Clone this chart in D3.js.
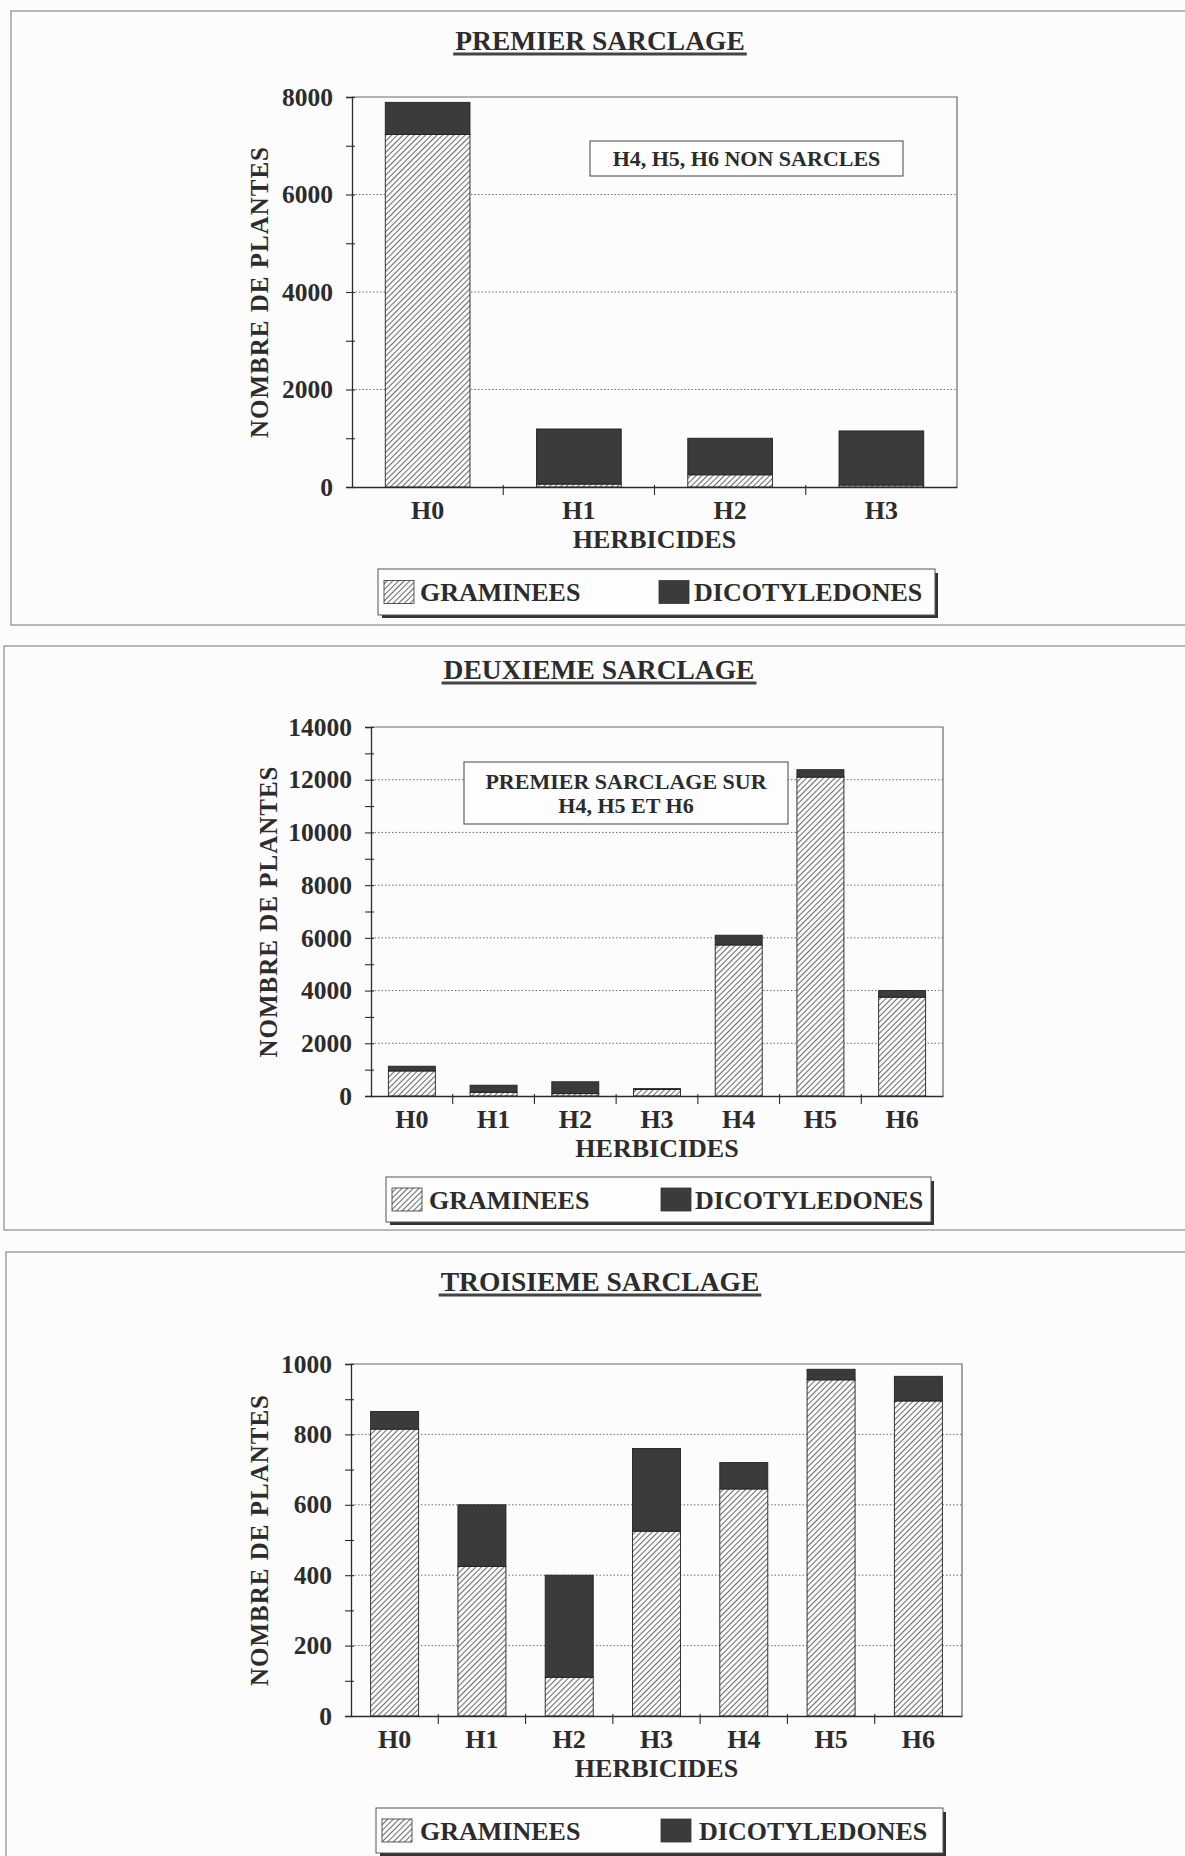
<!DOCTYPE html>
<html>
<head>
<meta charset="utf-8">
<script src="https://cdn.jsdelivr.net/npm/d3@7"></script>
<style>
  html, body { margin: 0; padding: 0; background: #fcfcfc; }
  svg { display: block; }
  text { font-family: "Liberation Serif", "Times New Roman", serif; font-weight: bold; fill: #2c2c2c; }
</style>
</head>
<body>
<svg id="chart" width="1185" height="1856"></svg>
<script>
// ---- data ----
const seriesNames = ["GRAMINEES", "DICOTYLEDONES"];

const categoriesPremier = ["H0", "H1", "H2", "H3"];
const gramineesPremier  = [7230, 60, 250, 40];
const dicotsPremier     = [660, 1130, 750, 1110];
const ticksPremier      = [0, 2000, 4000, 6000, 8000];

const categoriesDeuxieme = ["H0", "H1", "H2", "H3", "H4", "H5", "H6"];
const gramineesDeuxieme  = [950, 140, 90, 250, 5730, 12100, 3750];
const dicotsDeuxieme     = [180, 270, 450, 30, 370, 280, 250];
const ticksDeuxieme      = [0, 2000, 4000, 6000, 8000, 10000, 12000, 14000];

const categoriesTroisieme = ["H0", "H1", "H2", "H3", "H4", "H5", "H6"];
const gramineesTroisieme  = [815, 425, 110, 525, 645, 955, 895];
const dicotsTroisieme     = [50, 175, 290, 235, 75, 30, 70];
const ticksTroisieme      = [0, 200, 400, 600, 800, 1000];

// ---- layout of the three panels ----
const panels = [
  {
    title: "PREMIER SARCLAGE", titleX: 600, titleY: 50,
    categories: categoriesPremier, gram: gramineesPremier, dicot: dicotsPremier,
    ticks: ticksPremier, minor: 1000,
    frame: { x: 11, y: 11, h: 614 },
    plot: { x0: 352, x1: 957, y0: 97, y1: 487 }, pad: 0.44,
    yTitleX: 259,
    note: { x: 590, y: 141, w: 313, h: 35, lines: ["H4, H5, H6 NON SARCLES"] },
    legend: { x: 378, y: 569, w: 557, h: 46, s1: 6, t1: 42, s2: 281, t2: 316 }
  },
  {
    title: "DEUXIEME SARCLAGE", titleX: 599, titleY: 679,
    categories: categoriesDeuxieme, gram: gramineesDeuxieme, dicot: dicotsDeuxieme,
    ticks: ticksDeuxieme, minor: 1000,
    frame: { x: 4, y: 646, h: 584 },
    plot: { x0: 371, x1: 943, y0: 727, y1: 1096 }, pad: 0.425,
    yTitleX: 268,
    note: { x: 464, y: 762, w: 324, h: 62, lines: ["PREMIER SARCLAGE SUR", "H4, H5 ET H6"] },
    legend: { x: 386, y: 1177, w: 545, h: 45, s1: 6, t1: 43, s2: 275, t2: 309 }
  },
  {
    title: "TROISIEME SARCLAGE", titleX: 600, titleY: 1291,
    categories: categoriesTroisieme, gram: gramineesTroisieme, dicot: dicotsTroisieme,
    ticks: ticksTroisieme, minor: 100,
    frame: { x: 6, y: 1252, h: 700 },
    plot: { x0: 351, x1: 962, y0: 1364, y1: 1716 }, pad: 0.45,
    yTitleX: 259,
    note: null,
    legend: { x: 376, y: 1808, w: 567, h: 45, s1: 6, t1: 44, s2: 285, t2: 323 }
  }
];

const svg = d3.select("#chart");
const ink = "#2c2c2c";
const darkFill = "#3b3b3b";

// diagonal hatch used for the grass series
const defs = svg.append("defs");
const hs = 4;
const hatch = defs.append("pattern")
  .attr("id", "hatch")
  .attr("patternUnits", "userSpaceOnUse")
  .attr("width", hs).attr("height", hs)
  .attr("patternTransform", "rotate(45)");
hatch.append("rect").attr("width", hs).attr("height", hs).attr("fill", "#fafafa");
hatch.append("line")
  .attr("x1", 0.5).attr("y1", 0).attr("x2", 0.5).attr("y2", hs)
  .attr("stroke", "#505050").attr("stroke-width", 0.85);

const fills = ["url(#hatch)", darkFill];

panels.forEach(p => {
  const g = svg.append("g");

  // panel frame
  g.append("rect")
    .attr("x", p.frame.x).attr("y", p.frame.y)
    .attr("width", 1200).attr("height", p.frame.h)
    .attr("fill", "none").attr("stroke", "#8a8a8a").attr("stroke-width", 1.2);

  // title with underline
  const t = g.append("text")
    .attr("x", p.titleX).attr("y", p.titleY)
    .attr("text-anchor", "middle")
    .style("font-size", "27.5px")
    .text(p.title);
  const tw = t.node().getComputedTextLength();
  g.append("line")
    .attr("x1", p.titleX - tw / 2 - 2).attr("x2", p.titleX + tw / 2 + 2)
    .attr("y1", p.titleY + 4).attr("y2", p.titleY + 4)
    .attr("stroke", "#444").attr("stroke-width", 2.8);

  const { x0, x1, y0, y1 } = p.plot;
  const yMax = p.ticks[p.ticks.length - 1];

  const x = d3.scaleBand()
    .domain(p.categories)
    .range([x0, x1])
    .paddingInner(p.pad)
    .paddingOuter(p.pad / 2);
  const y = d3.scaleLinear().domain([0, yMax]).range([y1, y0]);

  // plot box (top and right edges)
  g.append("path")
    .attr("d", `M${x0},${y0}H${x1}V${y1}`)
    .attr("fill", "none").attr("stroke", "#6a6a6a").attr("stroke-width", 1.2);

  // dotted gridlines
  g.append("g").selectAll("line")
    .data(p.ticks.filter(v => v > 0 && v < yMax))
    .join("line")
    .attr("x1", x0).attr("x2", x1)
    .attr("y1", d => y(d)).attr("y2", d => y(d))
    .attr("stroke", "#6e6e6e").attr("stroke-width", 1)
    .attr("stroke-dasharray", "1.5,2");

  // stacked bars
  const rows = p.categories.map((c, i) => ({ cat: c, GRAMINEES: p.gram[i], DICOTYLEDONES: p.dicot[i] }));
  const stacked = d3.stack().keys(seriesNames)(rows);
  stacked.forEach((layer, li) => {
    g.append("g").selectAll("rect")
      .data(layer)
      .join("rect")
      .attr("x", d => x(d.data.cat))
      .attr("width", x.bandwidth())
      .attr("y", d => y(d[1]))
      .attr("height", d => Math.max(0, y(d[0]) - y(d[1])))
      .attr("fill", fills[li])
      .attr("stroke", "#222").attr("stroke-width", 0.9);
  });

  // y axis: minor ticks every step, labels at the major values
  const allTicks = d3.range(0, yMax + p.minor / 2, p.minor);
  const yAxis = d3.axisLeft(y)
    .tickValues(allTicks)
    .tickSize(6)
    .tickPadding(13)
    .tickFormat(d => p.ticks.includes(d) ? d3.format("d")(d) : "");
  const ya = g.append("g").attr("transform", `translate(${x0},0)`).call(yAxis);
  ya.select(".domain").attr("stroke", ink).attr("stroke-width", 1.3);
  ya.selectAll(".tick line").attr("x1", 3).attr("x2", -6).attr("stroke", ink).attr("stroke-width", 1.1);
  ya.selectAll(".tick text").style("font-size", "25.5px").attr("fill", ink);

  // x axis: labels centred in each category, tick marks at category boundaries
  const xAxis = d3.axisBottom(x).tickSize(0).tickPadding(13.5);
  const xa = g.append("g").attr("transform", `translate(0,${y1})`).call(xAxis);
  xa.select(".domain").attr("stroke", ink).attr("stroke-width", 1.3);
  xa.selectAll(".tick text").style("font-size", "26px").attr("fill", ink);

  const step = x.step();
  g.append("g").selectAll("line")
    .data(d3.range(1, p.categories.length))
    .join("line")
    .attr("x1", i => x0 + i * step).attr("x2", i => x0 + i * step)
    .attr("y1", y1 - 2).attr("y2", y1 + 8)
    .attr("stroke", ink).attr("stroke-width", 1.1);

  // axis titles
  g.append("text")
    .attr("x", (x0 + x1) / 2).attr("y", y1 + 61)
    .attr("text-anchor", "middle")
    .style("font-size", "26px")
    .text("HERBICIDES");
  g.append("text")
    .attr("transform", `translate(${p.yTitleX},${(y0 + y1) / 2}) rotate(-90)`)
    .attr("text-anchor", "middle")
    .attr("dy", "0.35em")
    .style("font-size", "25px")
    .style("letter-spacing", "1px")
    .text("NOMBRE DE PLANTES");

  // annotation box
  if (p.note) {
    const n = p.note;
    g.append("rect")
      .attr("x", n.x).attr("y", n.y).attr("width", n.w).attr("height", n.h)
      .attr("fill", "#fdfdfd").attr("stroke", "#555").attr("stroke-width", 1.1);
    const lh = 24;
    const top = n.y + n.h / 2 - (n.lines.length - 1) * lh / 2;
    n.lines.forEach((line, i) => {
      g.append("text")
        .attr("x", n.x + n.w / 2).attr("y", top + i * lh)
        .attr("dy", "0.35em")
        .attr("text-anchor", "middle")
        .style("font-size", "22px")
        .text(line);
    });
  }

  // legend with drop shadow
  const L = p.legend;
  g.append("path")
    .attr("d", `M${L.x + 4},${L.y + L.h + 1.5}H${L.x + L.w + 1.5}V${L.y + 4}`)
    .attr("fill", "none").attr("stroke", "#333").attr("stroke-width", 3);
  g.append("rect")
    .attr("x", L.x).attr("y", L.y).attr("width", L.w).attr("height", L.h)
    .attr("fill", "#fdfdfd").attr("stroke", "#555").attr("stroke-width", 1);
  const sw = 30, sh = 23;
  const sy = L.y + (L.h - sh) / 2;
  [[L.s1, L.t1], [L.s2, L.t2]].forEach(([sx, tx], i) => {
    g.append("rect")
      .attr("x", L.x + sx).attr("y", sy).attr("width", sw).attr("height", sh)
      .attr("fill", fills[i]).attr("stroke", "#333").attr("stroke-width", 0.8);
    g.append("text")
      .attr("x", L.x + tx).attr("y", L.y + L.h / 2)
      .attr("dy", "0.35em")
      .style("font-size", "26px")
      .text(seriesNames[i]);
  });
});
</script>
</body>
</html>
